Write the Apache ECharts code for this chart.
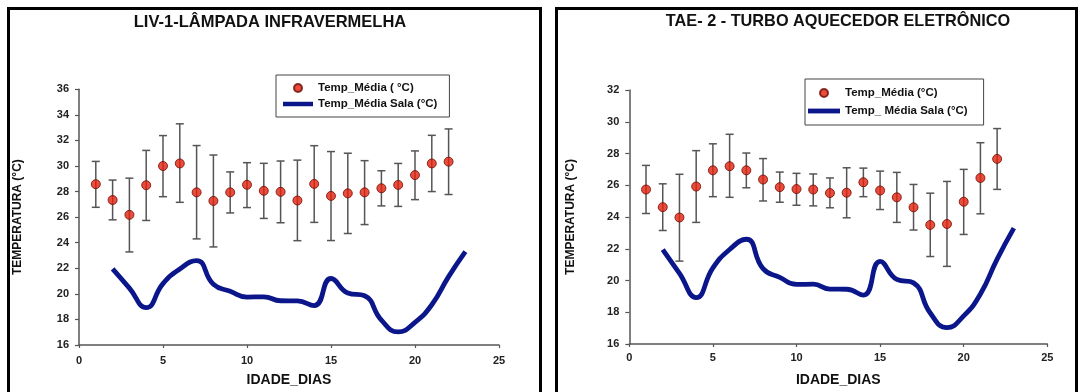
<!DOCTYPE html>
<html><head><meta charset="utf-8">
<script src="https://cdn.jsdelivr.net/npm/echarts@6/dist/echarts.min.js"></script>
<style>html,body{margin:0;padding:0;background:#fff}#c{width:1080px;height:392px}</style>
</head><body><div id="c"></div>
<script>
// ---- data ----
const days = [1,2,3,4,5,6,7,8,9,10,11,12,13,14,15,16,17,18,19,20,21,22];

// LIV-1 (lâmpada infravermelha)
const livMean = [28.58,27.34,26.18,28.5,30.0,30.2,27.94,27.27,27.94,28.53,28.06,27.98,27.3,28.6,27.66,27.86,27.94,28.26,28.52,29.29,30.2,30.34];
const livHigh = [30.36,28.9,29.05,31.22,32.38,33.3,31.6,30.86,29.54,30.26,30.21,30.39,30.46,31.59,31.13,31.0,30.42,29.63,30.2,31.18,32.4,32.9];
const livLow  = [26.77,25.79,23.28,25.74,27.6,27.16,24.3,23.67,26.33,26.75,25.9,25.56,24.16,25.59,24.17,24.72,25.42,26.88,26.84,27.37,28.0,27.77];

// TAE-2 (turbo aquecedor eletrônico)
const taeMean = [25.73,24.62,23.97,25.92,26.94,27.2,26.94,26.36,25.88,25.76,25.73,25.51,25.53,26.19,25.67,25.24,24.61,23.5,23.56,24.96,26.46,27.66];
const taeHigh = [27.25,26.09,26.69,28.18,28.61,29.21,28.03,27.68,26.83,26.75,26.71,26.46,27.1,27.08,26.89,26.81,26.05,25.5,26.24,27.0,28.68,29.57];
const taeLow  = [24.22,23.15,21.22,23.66,25.28,25.24,25.84,25.01,24.93,24.74,24.7,24.58,23.95,25.28,24.47,23.66,23.18,21.51,20.89,22.9,24.2,25.74];

// room temperature (same curve in both panels)
const roomDays = [2,3,4,5,6,7,8,9,10,11,12,13,14,15,16,17,18,19,20,21,22,23];
const roomTemp = [21.95,20.45,18.92,20.8,21.95,22.6,20.75,20.2,19.75,19.77,19.46,19.45,19.08,21.2,20.07,19.85,17.95,17.03,17.77,19.15,21.35,23.3];

const xTicks = [0,5,10,15,20,25];

// ---- chart ----
const FONT = "'Liberation Sans', Arial, Helvetica, sans-serif";
const chart = echarts.init(document.getElementById('c'));

function zip3(a,b,c){ return a.map((v,i)=>[v,b[i],c[i]]); }
function zip2(a,b){ return a.map((v,i)=>[v,b[i]]); }

function errRender(params, api){
  const x = api.value(0), lo = api.value(1), hi = api.value(2);
  const t = api.coord([x, hi]), b = api.coord([x, lo]);
  const hw = 4;
  const st = {stroke:'#555555', lineWidth:1.5, fill:null};
  return {type:'group', children:[
    {type:'line', shape:{x1:t[0], y1:t[1], x2:b[0], y2:b[1]}, style:st},
    {type:'line', shape:{x1:t[0]-hw, y1:t[1], x2:t[0]+hw, y2:t[1]}, style:st},
    {type:'line', shape:{x1:b[0]-hw, y1:b[1], x2:b[0]+hw, y2:b[1]}, style:st}
  ]};
}

const axisCol = '#555';
const lblStyle = {fontFamily:FONT, fontWeight:'bold', fontSize:11, color:'#222'};

function xAxis(g, margin, gap){
  return {type:'value', gridIndex:g, min:xTicks[0], max:xTicks[xTicks.length-1], interval:5,
    name:'IDADE_DIAS', nameLocation:'middle', nameGap:gap,
    nameTextStyle:{fontFamily:FONT, fontWeight:'bold', fontSize:14, color:'#111'},
    axisLine:{show:true, lineStyle:{color:axisCol, width:1.5}},
    axisTick:{show:true, length:3, lineStyle:{color:axisCol, width:1.2}},
    axisLabel:Object.assign({margin:margin}, lblStyle),
    splitLine:{show:false}};
}
function yAxis(g, min, max, gap){
  return {type:'value', gridIndex:g, min:min, max:max, interval:2,
    name:'TEMPERATURA (°C)', nameLocation:'middle', nameGap:gap, nameRotate:90,
    nameTextStyle:{fontFamily:FONT, fontWeight:'bold', fontSize:12, color:'#111'},
    axisLine:{show:true, lineStyle:{color:axisCol, width:1.5}},
    axisTick:{show:true, length:4, lineStyle:{color:axisCol, width:1.2}},
    axisLabel:Object.assign({margin:10}, lblStyle),
    splitLine:{show:false}};
}

const dotStyle = {color:'#e3200c', borderColor:'#6e0a00', borderWidth:1};
const lineCol = '#0b168a';
const legText = {fontFamily:FONT, fontWeight:'bold', fontSize:11.5, color:'#111'};
const lineIcon = 'path://M0,0H30V4.5H0Z';

chart.setOption({
  animation:false,
  backgroundColor:'#fff',
  grid:[
    {left:79, top:89.3, width:420, height:258},
    {left:629.3, top:90, width:418, height:259.3}
  ],
  xAxis:[xAxis(0,10,28), xAxis(1,8,29)],
  yAxis:[yAxis(0,16,36,55), yAxis(1,16,32,53)],
  legend:[
    {left:276, top:75, orient:'vertical',
     data:[{name:'Temp_Média ( °C)', icon:'circle'}, {name:'Temp_Média Sala (°C)', icon:lineIcon}],
     symbolKeepAspect:true,
     borderColor:'#444', borderWidth:1, padding:[7,12,7,7], itemWidth:30, itemHeight:8, itemGap:4,
     textStyle:legText},
    {left:805, top:79, orient:'vertical',
     data:[{name:'Temp_Média (°C)', icon:'circle'}, {name:'Temp_ Média Sala (°C)', icon:lineIcon}],
     symbolKeepAspect:true,
     borderColor:'#444', borderWidth:1, padding:[8,16,8,3], itemWidth:32, itemHeight:8, itemGap:6,
     textStyle:legText}
  ],
  graphic:[
    {type:'rect', shape:{x:8.5, y:8.5, width:532, height:400}, style:{fill:null, stroke:'#000', lineWidth:3}, silent:true},
    {type:'rect', shape:{x:556.5, y:8.5, width:520, height:400}, style:{fill:null, stroke:'#000', lineWidth:3}, silent:true},
    {type:'text', x:270, y:22, style:{text:'LIV-1-LÂMPADA INFRAVERMELHA', font:'bold 16.5px '+FONT, fill:'#111', textAlign:'center', textVerticalAlign:'middle'}},
    {type:'text', x:838, y:22, style:{text:'TAE- 2 - TURBO AQUECEDOR ELETRÔNICO', font:'bold 16.3px '+FONT, fill:'#111', textAlign:'center', textVerticalAlign:'middle'}}
  ],
  series:[
    {type:'custom', xAxisIndex:0, yAxisIndex:0, renderItem:errRender, data:zip3(days, livLow, livHigh), encode:{x:0, y:[1,2]}, z:2, silent:true},
    {type:'scatter', name:'Temp_Média ( °C)', xAxisIndex:0, yAxisIndex:0, data:zip2(days, livMean), symbol:'circle', symbolSize:9, itemStyle:dotStyle, z:3},
    {type:'line', name:'Temp_Média Sala (°C)', xAxisIndex:0, yAxisIndex:0, data:zip2(roomDays, roomTemp), smooth:0.5, showSymbol:false, symbol:'none', lineStyle:{color:lineCol, width:4.8}, itemStyle:{color:lineCol}, z:4},
    {type:'custom', xAxisIndex:1, yAxisIndex:1, renderItem:errRender, data:zip3(days, taeLow, taeHigh), encode:{x:0, y:[1,2]}, z:2, silent:true},
    {type:'scatter', name:'Temp_Média (°C)', xAxisIndex:1, yAxisIndex:1, data:zip2(days, taeMean), symbol:'circle', symbolSize:9, itemStyle:dotStyle, z:3},
    {type:'line', name:'Temp_ Média Sala (°C)', xAxisIndex:1, yAxisIndex:1, data:zip2(roomDays, roomTemp), smooth:0.5, showSymbol:false, symbol:'none', lineStyle:{color:lineCol, width:4.8}, itemStyle:{color:lineCol}, z:4}
  ]
});
</script>
</body></html>
